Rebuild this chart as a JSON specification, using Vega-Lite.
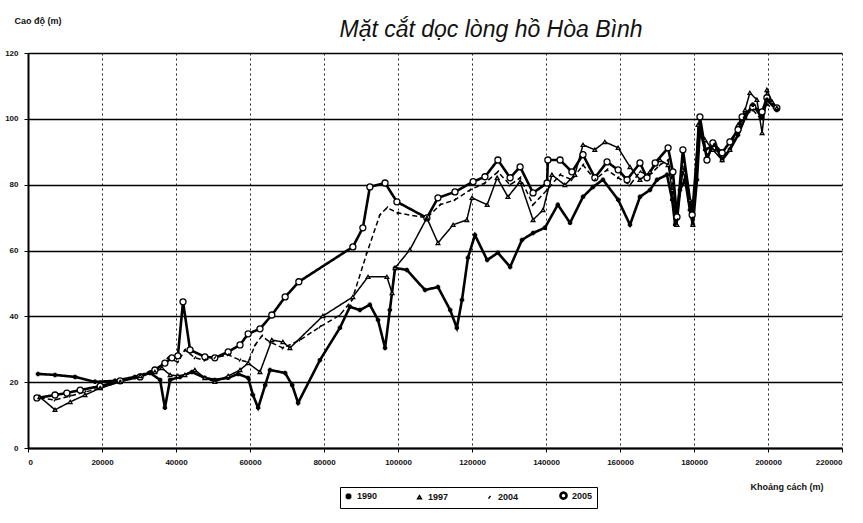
{
  "$schema": "https://vega.github.io/schema/vega-lite/v6.json",
  "width": 814,
  "height": 395,
  "autosize": {"type": "none"},
  "padding": {"left": 28, "top": 53, "right": 21, "bottom": 75},
  "background": "white",
  "title": {"text": "Mặt cắt dọc lòng hồ Hòa Bình", "anchor": "middle", "dx": 56, "dy": 58, "offset": 14, "fontSize": 23, "fontStyle": "italic", "fontWeight": "normal", "font": "Liberation Sans", "color": "#111", "baseline": "alphabetic"},
  "config": {
    "view": {"stroke": null},
    "font": "Liberation Sans"
  },
  "datasets": {
    "d": [
      {"s":"2005","d":2400,"z":15.2},{"s":"2005","d":7300,"z":16.1},{"s":"2005","d":10500,"z":16.7},{"s":"2005","d":14100,"z":17.6},{"s":"2005","d":19500,"z":18.8},{"s":"2005","d":24900,"z":20.4},{"s":"2005","d":30300,"z":21.6},{"s":"2005","d":34300,"z":23.7},{"s":"2005","d":37000,"z":25.8},{"s":"2005","d":38900,"z":27.4},{"s":"2005","d":40500,"z":28.0},{"s":"2005","d":41900,"z":44.4},{"s":"2005","d":43800,"z":29.8},{"s":"2005","d":47800,"z":27.7},{"s":"2005","d":50500,"z":27.4},{"s":"2005","d":54100,"z":29.2},{"s":"2005","d":57300,"z":31.3},{"s":"2005","d":59500,"z":34.7},{"s":"2005","d":62700,"z":36.2},{"s":"2005","d":65900,"z":40.4},{"s":"2005","d":69500,"z":45.9},{"s":"2005","d":73200,"z":50.5},{"s":"2005","d":87800,"z":61.1},{"s":"2005","d":90500,"z":66.9},{"s":"2005","d":92400,"z":79.3},{"s":"2005","d":96500,"z":80.5},{"s":"2005","d":99700,"z":74.8},{"s":"2005","d":107800,"z":69.9},{"s":"2005","d":110800,"z":76.0},{"s":"2005","d":115400,"z":77.8},{"s":"2005","d":120300,"z":80.9},{"s":"2005","d":123500,"z":82.4},{"s":"2005","d":127000,"z":87.5},{"s":"2005","d":130300,"z":82.1},{"s":"2005","d":133000,"z":85.4},{"s":"2005","d":136500,"z":77.5},{"s":"2005","d":140300,"z":80.5},{"s":"2005","d":140500,"z":87.5},{"s":"2005","d":143800,"z":87.5},{"s":"2005","d":147000,"z":83.9},{"s":"2005","d":150000,"z":89.1},{"s":"2005","d":153200,"z":82.1},{"s":"2005","d":156500,"z":86.9},{"s":"2005","d":159500,"z":84.5},{"s":"2005","d":161900,"z":81.5},{"s":"2005","d":165400,"z":86.6},{"s":"2005","d":167300,"z":82.1},{"s":"2005","d":169500,"z":86.6},{"s":"2005","d":173000,"z":91.2},{"s":"2005","d":174300,"z":83.9},{"s":"2005","d":175400,"z":70.2},{"s":"2005","d":177000,"z":90.6},{"s":"2005","d":179500,"z":70.8},{"s":"2005","d":181600,"z":100.6},{"s":"2005","d":183500,"z":87.5},{"s":"2005","d":185100,"z":92.7},{"s":"2005","d":187600,"z":89.7},{"s":"2005","d":189700,"z":93.0},{"s":"2005","d":191900,"z":96.7},{"s":"2005","d":193000,"z":100.6},{"s":"2005","d":195900,"z":103.6},{"s":"2005","d":198400,"z":102.1},{"s":"2005","d":199700,"z":106.4},{"s":"2005","d":202400,"z":103.3},
      {"s":"1990","d":2700,"z":22.5},{"s":"1990","d":7300,"z":22.2},{"s":"1990","d":12700,"z":21.6},{"s":"1990","d":18100,"z":20.1},{"s":"1990","d":23500,"z":20.4},{"s":"1990","d":28900,"z":21.6},{"s":"1990","d":33000,"z":22.8},{"s":"1990","d":35700,"z":20.7},{"s":"1990","d":37000,"z":12.2},{"s":"1990","d":38400,"z":20.7},{"s":"1990","d":41100,"z":21.6},{"s":"1990","d":44300,"z":23.1},{"s":"1990","d":47800,"z":21.3},{"s":"1990","d":50500,"z":20.7},{"s":"1990","d":54100,"z":21.3},{"s":"1990","d":56800,"z":22.5},{"s":"1990","d":59500,"z":21.3},{"s":"1990","d":60800,"z":16.1},{"s":"1990","d":62200,"z":12.2},{"s":"1990","d":64100,"z":19.1},{"s":"1990","d":65400,"z":23.7},{"s":"1990","d":69500,"z":22.8},{"s":"1990","d":71400,"z":19.1},{"s":"1990","d":73000,"z":13.7},{"s":"1990","d":78900,"z":26.7},{"s":"1990","d":84300,"z":36.5},{"s":"1990","d":87000,"z":42.9},{"s":"1990","d":89700,"z":41.9},{"s":"1990","d":92400,"z":43.5},{"s":"1990","d":94600,"z":38.9},{"s":"1990","d":96500,"z":30.4},{"s":"1990","d":97800,"z":41.9},{"s":"1990","d":99200,"z":54.7},{"s":"1990","d":102400,"z":54.1},{"s":"1990","d":107300,"z":48.0},{"s":"1990","d":110800,"z":48.9},{"s":"1990","d":114100,"z":41.9},{"s":"1990","d":115900,"z":36.5},{"s":"1990","d":117300,"z":45.0},{"s":"1990","d":118900,"z":57.8},{"s":"1990","d":120800,"z":64.7},{"s":"1990","d":124100,"z":57.1},{"s":"1990","d":127000,"z":59.3},{"s":"1990","d":130300,"z":55.0},{"s":"1990","d":133500,"z":63.2},{"s":"1990","d":136500,"z":65.3},{"s":"1990","d":139700,"z":66.9},{"s":"1990","d":143200,"z":73.9},{"s":"1990","d":146500,"z":68.4},{"s":"1990","d":150000,"z":76.3},{"s":"1990","d":152700,"z":79.3},{"s":"1990","d":155400,"z":81.5},{"s":"1990","d":159500,"z":75.4},{"s":"1990","d":162700,"z":67.8},{"s":"1990","d":165400,"z":76.3},{"s":"1990","d":168100,"z":78.4},{"s":"1990","d":170000,"z":81.5},{"s":"1990","d":172700,"z":83.0},{"s":"1990","d":174100,"z":75.4},{"s":"1990","d":174900,"z":67.8},{"s":"1990","d":176200,"z":78.4},{"s":"1990","d":177600,"z":81.5},{"s":"1990","d":178900,"z":72.3},{"s":"1990","d":179700,"z":67.8},{"s":"1990","d":180800,"z":81.5},{"s":"1990","d":181600,"z":96.7},{"s":"1990","d":183000,"z":90.6},{"s":"1990","d":185700,"z":92.1},{"s":"1990","d":187600,"z":87.5},{"s":"1990","d":189700,"z":90.6},{"s":"1990","d":191900,"z":95.1},{"s":"1990","d":193800,"z":100.3},{"s":"1990","d":195900,"z":104.3},{"s":"1990","d":198400,"z":100.3},{"s":"1990","d":199700,"z":105.8},{"s":"1990","d":202400,"z":102.7},
      {"s":"1997","d":3200,"z":15.5},{"s":"1997","d":7300,"z":11.6},{"s":"1997","d":11400,"z":14.0},{"s":"1997","d":15400,"z":16.1},{"s":"1997","d":19500,"z":18.2},{"s":"1997","d":24900,"z":20.1},{"s":"1997","d":30300,"z":21.9},{"s":"1997","d":34300,"z":23.1},{"s":"1997","d":36200,"z":24.3},{"s":"1997","d":38400,"z":22.2},{"s":"1997","d":40500,"z":21.9},{"s":"1997","d":42400,"z":22.2},{"s":"1997","d":45100,"z":23.7},{"s":"1997","d":47800,"z":21.3},{"s":"1997","d":50500,"z":20.1},{"s":"1997","d":54100,"z":21.9},{"s":"1997","d":57300,"z":23.7},{"s":"1997","d":59500,"z":25.8},{"s":"1997","d":62700,"z":23.1},{"s":"1997","d":65900,"z":32.8},{"s":"1997","d":68900,"z":32.2},{"s":"1997","d":70800,"z":30.4},{"s":"1997","d":79700,"z":40.1},{"s":"1997","d":87800,"z":45.9},{"s":"1997","d":91900,"z":52.0},{"s":"1997","d":97000,"z":52.0},{"s":"1997","d":98400,"z":47.1},{"s":"1997","d":99200,"z":54.7},{"s":"1997","d":103200,"z":60.2},{"s":"1997","d":107800,"z":69.9},{"s":"1997","d":110800,"z":62.3},{"s":"1997","d":114900,"z":67.8},{"s":"1997","d":118600,"z":69.3},{"s":"1997","d":120000,"z":76.0},{"s":"1997","d":124100,"z":73.9},{"s":"1997","d":126800,"z":82.1},{"s":"1997","d":129700,"z":76.3},{"s":"1997","d":133000,"z":80.9},{"s":"1997","d":136500,"z":69.3},{"s":"1997","d":139200,"z":72.3},{"s":"1997","d":141600,"z":83.0},{"s":"1997","d":145100,"z":79.9},{"s":"1997","d":147800,"z":83.0},{"s":"1997","d":150000,"z":92.1},{"s":"1997","d":153200,"z":90.6},{"s":"1997","d":155900,"z":93.0},{"s":"1997","d":159500,"z":91.2},{"s":"1997","d":162700,"z":85.4},{"s":"1997","d":165400,"z":81.5},{"s":"1997","d":168100,"z":83.9},{"s":"1997","d":170800,"z":87.5},{"s":"1997","d":173000,"z":86.0},{"s":"1997","d":174100,"z":78.4},{"s":"1997","d":175400,"z":67.8},{"s":"1997","d":177000,"z":84.5},{"s":"1997","d":178900,"z":75.4},{"s":"1997","d":179700,"z":67.8},{"s":"1997","d":181100,"z":98.2},{"s":"1997","d":183000,"z":93.6},{"s":"1997","d":185100,"z":90.6},{"s":"1997","d":187600,"z":87.5},{"s":"1997","d":189700,"z":90.6},{"s":"1997","d":191900,"z":98.2},{"s":"1997","d":193800,"z":102.7},{"s":"1997","d":195100,"z":107.9},{"s":"1997","d":197000,"z":105.8},{"s":"1997","d":198400,"z":95.7},{"s":"1997","d":199700,"z":108.8},{"s":"1997","d":201100,"z":105.2},{"s":"1997","d":202400,"z":103.3},
      {"s":"2004","d":3200,"z":15.2},{"s":"2004","d":7300,"z":14.6},{"s":"2004","d":11400,"z":15.8},{"s":"2004","d":15400,"z":17.0},{"s":"2004","d":19500,"z":18.2},{"s":"2004","d":24900,"z":20.1},{"s":"2004","d":30300,"z":22.2},{"s":"2004","d":35100,"z":24.3},{"s":"2004","d":37800,"z":27.4},{"s":"2004","d":40500,"z":26.1},{"s":"2004","d":42400,"z":29.8},{"s":"2004","d":45100,"z":27.4},{"s":"2004","d":47800,"z":26.7},{"s":"2004","d":50500,"z":27.4},{"s":"2004","d":54100,"z":28.3},{"s":"2004","d":57300,"z":26.7},{"s":"2004","d":59500,"z":26.1},{"s":"2004","d":61400,"z":31.3},{"s":"2004","d":63200,"z":34.0},{"s":"2004","d":65400,"z":32.2},{"s":"2004","d":68900,"z":30.4},{"s":"2004","d":73500,"z":32.8},{"s":"2004","d":78900,"z":36.8},{"s":"2004","d":84300,"z":40.4},{"s":"2004","d":87600,"z":45.0},{"s":"2004","d":91600,"z":59.3},{"s":"2004","d":95100,"z":70.8},{"s":"2004","d":97000,"z":73.0},{"s":"2004","d":100000,"z":71.4},{"s":"2004","d":107800,"z":69.9},{"s":"2004","d":111400,"z":73.9},{"s":"2004","d":115400,"z":75.4},{"s":"2004","d":119500,"z":78.4},{"s":"2004","d":123500,"z":80.5},{"s":"2004","d":127000,"z":83.9},{"s":"2004","d":130300,"z":79.9},{"s":"2004","d":133000,"z":82.1},{"s":"2004","d":136500,"z":73.9},{"s":"2004","d":140300,"z":78.4},{"s":"2004","d":143800,"z":83.0},{"s":"2004","d":147000,"z":81.5},{"s":"2004","d":150000,"z":86.0},{"s":"2004","d":153200,"z":81.5},{"s":"2004","d":156500,"z":84.5},{"s":"2004","d":159500,"z":82.1},{"s":"2004","d":162700,"z":79.9},{"s":"2004","d":165400,"z":83.9},{"s":"2004","d":168100,"z":83.0},{"s":"2004","d":170800,"z":86.0},{"s":"2004","d":173000,"z":87.5},{"s":"2004","d":174300,"z":79.9},{"s":"2004","d":175400,"z":69.3},{"s":"2004","d":177000,"z":87.5},{"s":"2004","d":179500,"z":69.9},{"s":"2004","d":181600,"z":98.2},{"s":"2004","d":183500,"z":89.1},{"s":"2004","d":185700,"z":90.6},{"s":"2004","d":187600,"z":88.1},{"s":"2004","d":189700,"z":91.2},{"s":"2004","d":191900,"z":95.1},{"s":"2004","d":193800,"z":101.2},{"s":"2004","d":195900,"z":102.7},{"s":"2004","d":197800,"z":100.3},{"s":"2004","d":199700,"z":104.3},{"s":"2004","d":202400,"z":102.7}
    ]
  },
  "data": {"name": "d"},
  "encoding": {
    "x": {"field": "d", "type": "quantitative", "scale": {"domain": [0, 220000], "nice": false},
      "axis": {"values": [0,20000,40000,60000,80000,100000,120000,140000,160000,180000,200000,220000], "format": "d", "labelFontSize": 8, "labelFontWeight": "bold", "labelColor": "#111", "labelPadding": 6, "tickColor": "black", "tickSize": 4, "domainColor": "black", "domainWidth": 2, "grid": true, "gridColor": "#222", "gridDash": [2, 3], "gridWidth": 1,
        "title": "Khoảng cách (m)", "titleFontSize": 9, "titleFontWeight": "bold", "titleColor": "#111", "titleAlign": "left", "titleAnchor": "start", "titleX": 722, "titleY": 38, "titleBaseline": "middle"}},
    "y": {"field": "z", "type": "quantitative", "scale": {"domain": [0, 120], "nice": false},
      "axis": {"values": [0,20,40,60,80,100,120], "labelFontSize": 8, "labelFontWeight": "bold", "labelColor": "#111", "labelPadding": 6, "tickColor": "black", "tickSize": 4, "domainColor": "black", "domainWidth": 2, "grid": true, "gridColor": "black", "gridWidth": 1.6,
        "title": "Cao độ (m)", "titleAngle": 0, "titleFontSize": 9, "titleFontWeight": "bold", "titleColor": "#111", "titleAlign": "left", "titleAnchor": "start", "titleX": -14, "titleY": -33, "titleBaseline": "middle"}},
    "color": {"field": "s", "type": "nominal", "scale": {"domain": ["1990","1997","2004","2005"], "range": ["black","black","black","black"]},
      "legend": {"title": null, "orient": "none", "legendX": 312, "legendY": 434, "direction": "horizontal", "strokeColor": "black", "padding": 4, "labelFontSize": 9, "labelFontWeight": "bold", "labelColor": "#111", "symbolFillColor": "white", "symbolSize": 45, "symbolStrokeWidth": 1.5, "columnPadding": 36, "labelOffset": 4, "fillColor": "white"}}
  },
  "layer": [
    {
      "mark": {"type": "line"},
      "encoding": {
        "strokeDash": {"field": "s", "type": "nominal", "scale": {"domain": ["1990","1997","2004","2005"], "range": [[1,0],[1,0],[5,3],[1,0]]}, "legend": null},
        "strokeWidth": {"field": "s", "type": "nominal", "legend": null, "scale": {"type": "ordinal", "domain": ["1990","1997","2004","2005"], "range": [2.6, 1.5, 1.5, 2.6]}}
      }
    },
    {
      "mark": {"type": "point", "filled": false, "fill": "white", "fillOpacity": 1, "strokeWidth": 1.3, "opacity": 1},
      "encoding": {
        "shape": {"field": "s", "type": "nominal", "scale": {"domain": ["1990","1997","2004","2005"], "range": ["cross", "triangle-up", "M-0.6,0.8L0.6,-0.8", "circle"]}},
        "size": {"field": "s", "type": "nominal", "legend": null, "scale": {"type": "ordinal", "domain": ["1990","1997","2004","2005"], "range": [10, 14, 12, 36]}}
      }
    }
  ]
}
